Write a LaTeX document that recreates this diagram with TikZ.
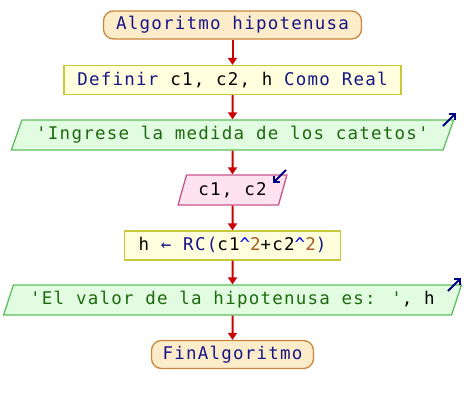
\documentclass[tikz,border=0pt]{standalone}
\usepackage{fontspec}
\usetikzlibrary{shapes.geometric,arrows.meta}
\newfontfamily\codefont[LetterSpace=7]{DejaVu Sans Mono}
\definecolor{termfill}{RGB}{253,236,202}
\definecolor{termdraw}{RGB}{200,135,60}
\definecolor{procfill}{RGB}{255,255,221}
\definecolor{procdraw}{RGB}{200,200,60}
\definecolor{outfill}{RGB}{226,252,226}
\definecolor{outdraw}{RGB}{95,190,95}
\definecolor{infill}{RGB}{255,226,240}
\definecolor{indraw}{RGB}{200,85,140}
\definecolor{flowred}{RGB}{205,0,0}
\definecolor{kwblue}{RGB}{22,22,135}
\definecolor{strgreen}{RGB}{30,105,15}
\definecolor{numbrown}{RGB}{170,90,40}
\definecolor{iodark}{RGB}{0,0,130}
\tikzset{
  every node/.style={font=\codefont\fontsize{17.5}{19}\selectfont, inner sep=0pt, text=black},
  term/.style={draw=termdraw, fill=termfill, line width=1.3pt, rounded corners=10pt, minimum height=28pt},
  proc/.style={draw=procdraw, fill=procfill, line width=1.3pt, minimum height=29pt},
  para/.style={trapezium, trapezium stretches=true, line width=1.3pt, minimum height=30pt},
  outbox/.style={para, draw=outdraw, fill=outfill},
  inbox/.style={para, draw=indraw, fill=infill},
  flow/.style={draw=flowred, line width=2pt, -{Triangle[width=9pt,length=7pt]}},
  iomark/.style={draw=iodark, line width=1.8pt, -{Straight Barb[width=8pt,length=4pt]}}
}
\begin{document}
\begin{tikzpicture}[x=1pt,y=-1pt]
\useasboundingbox (0,0) rectangle (464,405);

\node[term, minimum width=258pt] (start) at (232.5,25) {\color{kwblue}Algoritmo hipotenusa};
\node[proc, minimum width=337pt] (def) at (232.5,80)
  {\color{kwblue}Definir \color{black}c1, c2, h \color{kwblue}Como Real};
\node[outbox, minimum width=445pt, trapezium left angle=60, trapezium right angle=120] (msg) at (232.5,135)
  {\color{strgreen}'Ingrese la medida de los catetos'};
\node[inbox, minimum width=109pt, trapezium left angle=68, trapezium right angle=112] (read) at (232.5,190)
  {c1, c2};
\node[proc, minimum width=216pt] (calc) at (232.5,245.5)
  {h \color{kwblue}\char"2190\ RC(\color{black}c1\color{blue}\^{}\color{numbrown}2\color{black}+c2\color{blue}\^{}\color{numbrown}2\color{kwblue})};
\node[outbox, minimum width=458pt, trapezium left angle=62, trapezium right angle=118] (res) at (232.5,300)
  {\color{strgreen}'El valor de la hipotenusa es: '\color{black}, h};
\node[term, minimum width=162pt] (stop) at (232.5,354.5) {\color{kwblue}FinAlgoritmo};

% flow arrows
\draw[flow] (start.south) -- (def.north);
\draw[flow] (def.south) -- (msg.north);
\draw[flow] (msg.south) -- (read.north);
\draw[flow] (read.south) -- (calc.north);
\draw[flow] (calc.south) -- (res.north);
\draw[flow] (res.south) -- (stop.north);

% input / output markers
\coordinate (m1a) at (443,126); \coordinate (m1b) at (456,113);
\coordinate (m2a) at (286,170); \coordinate (m2b) at (273,183);
\coordinate (m3a) at (448,291); \coordinate (m3b) at (461,278);
\draw[iomark] (m1a) -- (m1b);
\draw[iomark] (m2a) -- (m2b);
\draw[iomark] (m3a) -- (m3b);
\end{tikzpicture}
\end{document}
